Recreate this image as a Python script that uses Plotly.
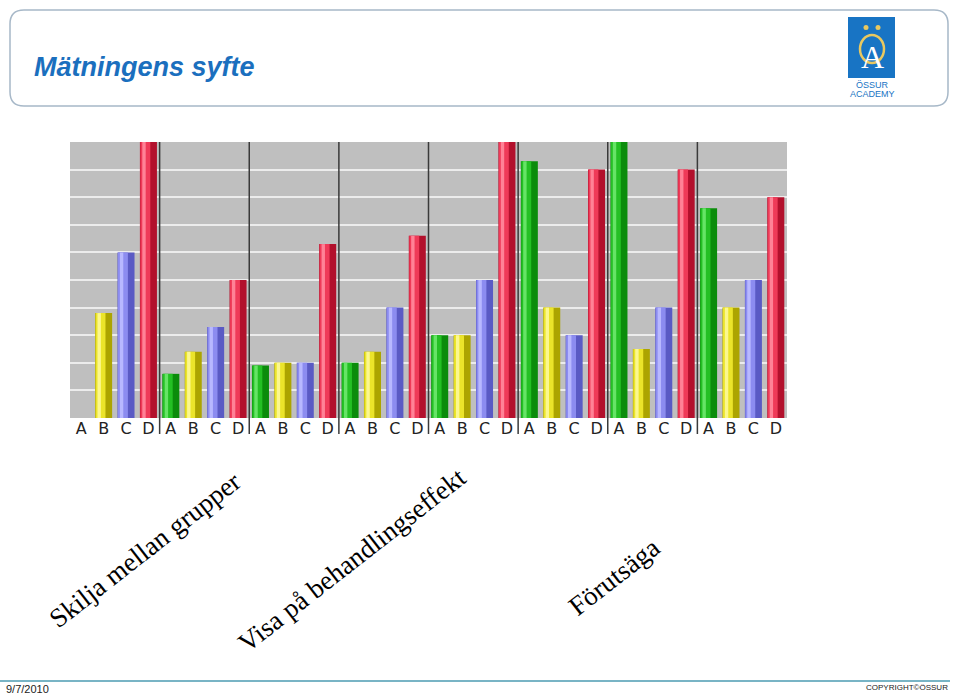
import plotly.graph_objects as go

# ---- data ----
groups = 8
series_names = ["A", "B", "C", "D"]
A_vals = [0, 1.6, 1.9, 2.0, 3.0, 9.3, 10, 7.6]
B_vals = [3.8, 2.4, 2.0, 2.4, 3.0, 4.0, 2.5, 4.0]
C_vals = [6.0, 3.3, 2.0, 4.0, 5.0, 3.0, 4.0, 5.0]
D_vals = [10, 5.0, 6.3, 6.6, 10, 9.0, 9.0, 8.0]
tick_labels = series_names * groups
labels = ["Skilja mellan grupper", "Visa på behandlingseffekt", "Förutsäga"]

W, H = 960, 695
def px(x): return x / W
def py(y): return 1 - y / H

colors = {
    "A": ("#0b8c0b", "#24c024", "#66e466"),
    "B": ("#aca400", "#ebe42a", "#fbf790"),
    "C": ("#5a5ac4", "#8c8cf0", "#b8b8ff"),
    "D": ("#b2102c", "#ef3a58", "#ff8296"),
}

fig = go.Figure()
bw = 0.76
all_vals = [A_vals, B_vals, C_vals, D_vals]
for si, (name, vals) in enumerate(zip(series_names, all_vals)):
    xs = [g * 4 + si for g in range(groups)]
    dark, main, light = colors[name]
    layers = [(bw, -bw / 2, dark), (bw * 0.58, -bw / 2 + bw * 0.03, main), (bw * 0.2, -bw / 2 + bw * 0.14, light)]
    for w, off, col in layers:
        fig.add_trace(go.Bar(x=xs, y=vals, width=w, offset=off, marker=dict(color=col, line=dict(width=0)),
                             showlegend=False, hoverinfo="skip"))

x0p, x1p, y0p, y1p = 70, 787, 142, 418
fig.update_layout(
    width=W, height=H, margin=dict(l=0, r=0, t=0, b=0),
    paper_bgcolor="white", plot_bgcolor="#bfbfbf",
    barmode="overlay", showlegend=False,
    xaxis=dict(domain=[px(x0p), px(x1p)], range=[-0.5, groups * 4 - 0.5], tickmode="array",
               tickvals=list(range(groups * 4)), ticktext=tick_labels, showgrid=False, zeroline=False,
               ticks="", ticklabelstandoff=-1,
               tickfont=dict(family="DejaVu Sans", size=16, color="#222222"), fixedrange=True),
    yaxis=dict(domain=[py(y1p), py(y0p)], range=[0, 10], dtick=1, showgrid=True, gridcolor="#ececec",
               gridwidth=1.5, zeroline=False, showticklabels=False, ticks="", fixedrange=True),
)

shapes = []
for g in range(1, groups):
    shapes.append(dict(type="line", xref="x", yref="paper", x0=g * 4 - 0.5, x1=g * 4 - 0.5,
                       y0=py(434), y1=py(y0p), line=dict(color="#3a3a3a", width=1.5)))

l, r, t, b, rad = 10, 948, 10, 106, 14
rx, ry = rad / W, rad / H
L, R, T, B = px(l), px(r), py(t), py(b)
path = (f"M {L+rx},{T} L {R-rx},{T} Q {R},{T} {R},{T-ry} L {R},{B+ry} Q {R},{B} {R-rx},{B} "
        f"L {L+rx},{B} Q {L},{B} {L},{B+ry} L {L},{T-ry} Q {L},{T} {L+rx},{T} Z")
shapes.append(dict(type="path", xref="paper", yref="paper", path=path, line=dict(color="#a7b8c8", width=1.5)))

shapes.append(dict(type="rect", xref="paper", yref="paper", x0=px(848), x1=px(895), y0=py(78), y1=py(17),
                   fillcolor="#1874c4", line=dict(width=0)))
shapes.append(dict(type="circle", xref="paper", yref="paper", x0=px(860), x1=px(884), y0=py(63), y1=py(35),
                   line=dict(color="#e8c860", width=2.5)))
for cx in (866, 878):
    shapes.append(dict(type="circle", xref="paper", yref="paper", x0=px(cx - 2.5), x1=px(cx + 2.5),
                       y0=py(30), y1=py(25), fillcolor="#e8c860", line=dict(width=0)))

shapes.append(dict(type="line", xref="paper", yref="paper", x0=0, x1=px(950), y0=py(681), y1=py(681),
                   line=dict(color="#4b9bb2", width=1.5)))

def ann(text, x, y, xa="center", ya="middle", **font):
    return dict(text=text, x=px(x), y=py(y), xref="paper", yref="paper", xanchor=xa, yanchor=ya,
                showarrow=False, font=font)

annotations = [
    ann("Mätningens syfte", 32, 67, xa="left", family="Liberation Sans", size=27, color="#1b6fbe",
        weight="bold", style="italic"),
    ann("A", 872, 57, family="Liberation Serif", size=32, color="white"),
    ann("ÖSSUR", 872, 85, family="Liberation Sans", size=9, color="#1874c4"),
    ann("ACADEMY", 872, 94, family="Liberation Sans", size=9, color="#1874c4"),
    ann("9/7/2010", 4, 689, xa="left", family="Liberation Sans", size=11, color="#222222"),
    ann("COPYRIGHT©ÖSSUR", 950, 687, xa="right", family="Liberation Sans", size=8, color="#222222"),
]
centers = [(145, 550), (352, 560), (614, 577)]
for txt, (cx, cy) in zip(labels, centers):
    a = ann(txt, cx, cy, family="Liberation Serif", size=27, color="black")
    a["textangle"] = -38
    annotations.append(a)

fig.update_layout(shapes=shapes, annotations=annotations)
fig.write_html("out.html", config={"displayModeBar": False},
               post_script="document.body.style.margin='0';")
